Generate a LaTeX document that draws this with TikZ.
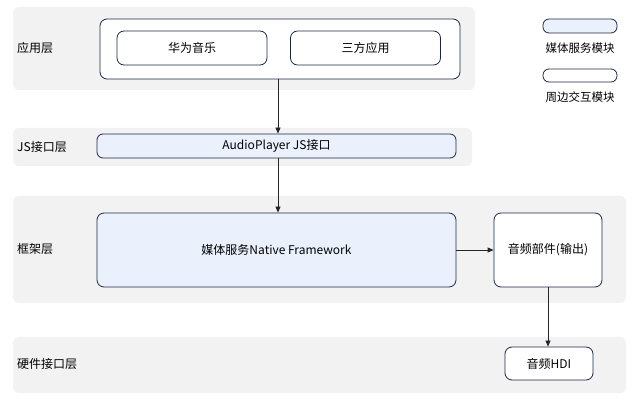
\documentclass[tikz,border=0pt]{standalone}
\usepackage{fontspec}
\setmainfont{Noto Sans CJK SC}
\usetikzlibrary{arrows.meta}
\definecolor{layerbg}{HTML}{F2F2F2}
\definecolor{bluefill}{HTML}{EBF1FC}
\definecolor{edge}{HTML}{1E2846}
\begin{document}
\begin{tikzpicture}[x=1pt,y=-1pt,
  layer/.style={fill=layerbg,draw=none,rounded corners=6pt},
  box/.style={draw=edge,line width=0.8pt,rounded corners=7pt,fill=white},
  bluebox/.style={box,fill=bluefill},
  txt/.style={font=\fontsize{12}{14}\selectfont,text=black},
  lbl/.style={font=\fontsize{12}{14}\selectfont,anchor=west,inner sep=0pt},
  conn/.style={draw=black!85,line width=0.8pt,-{Triangle[length=6pt,width=5pt]}}]
\useasboundingbox (0,0) rectangle (638,406);
% layers
\fill[layer] (13,7) rectangle (475,90);
\fill[layer] (13,128) rectangle (472,166);
\fill[layer] (13,196) rectangle (626,303);
\fill[layer] (13,337) rectangle (626,393);
\node[lbl] (l1) at (17,48) {应用层};
\node[lbl] (l2) at (17,147) {JS接口层};
\node[lbl] (l3) at (17,249) {框架层};
\node[lbl] (l4) at (17,364) {硬件接口层};
% app layer
\draw[box] (100,19) rectangle (460,79);
\coordinate (app) at (278,79);
\node[box,minimum width=150pt,minimum height=34pt,txt] (hw) at (192,48) {华为音乐};
\node[box,minimum width=150pt,minimum height=34pt,txt] (sf) at (365.5,48) {三方应用};
% JS
\node[bluebox,rounded corners=6pt,minimum width=359pt,minimum height=24pt,txt] (js) at (276.5,146) {AudioPlayer JS接口};
% framework
\node[bluebox,minimum width=359pt,minimum height=74pt,txt] (fw) at (276.5,250) {媒体服务Native Framework};
\node[box,minimum width=108pt,minimum height=74pt,txt,inner sep=1pt] (out) at (548,250) {音频部件(输出)};
\node[box,minimum width=88pt,minimum height=33pt,txt] (hdi) at (549,363.5) {音频HDI};
% legend
\node[bluebox,rounded corners=6pt,minimum width=74pt,minimum height=14pt] (lg1) at (580,26) {};
\node[txt,font=\fontsize{11.5}{13}\selectfont] (lt1) at (580,48) {媒体服务模块};
\node[box,rounded corners=6pt,minimum width=74pt,minimum height=13pt] (lg2) at (580,75.5) {};
\node[txt,font=\fontsize{11.5}{13}\selectfont] (lt2) at (580,97) {周边交互模块};
% connectors
\draw[conn] (app) -- (app |- js.north);
\draw[conn] (js.south -| app) -- (fw.north -| app);
\draw[conn] (fw.east) -- (out.west);
\draw[conn] (out.south) -- (hdi.north -| out.south);
\end{tikzpicture}
\end{document}
